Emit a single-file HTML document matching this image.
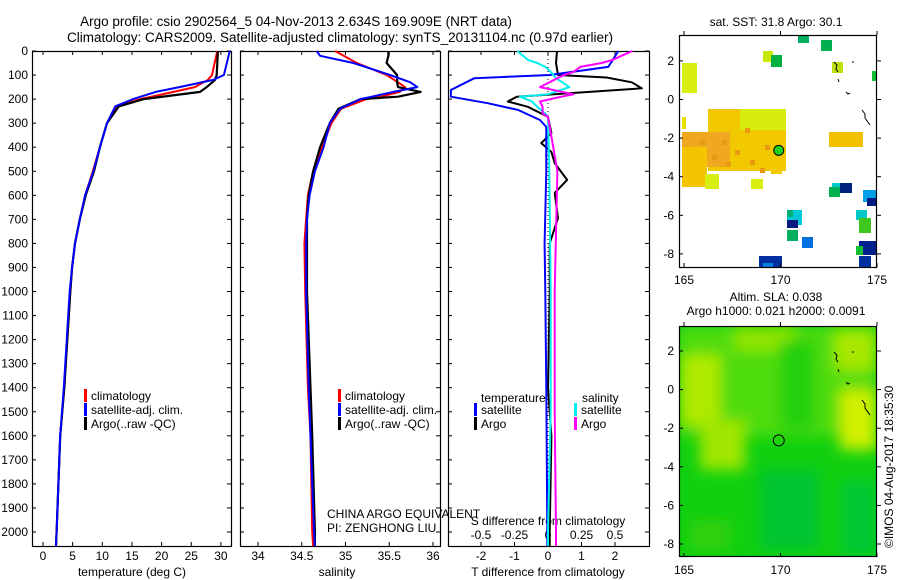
<!DOCTYPE html>
<html><head><meta charset="utf-8"><style>
html,body{margin:0;padding:0;background:#fff;}
svg{display:block;font-family:"Liberation Sans",sans-serif;}
text{fill:#000;}
</style></head><body>
<svg id="fig" width="900" height="580" viewBox="0 0 900 580" xmlns="http://www.w3.org/2000/svg">
<text x="296" y="26" font-size="13.5" text-anchor="middle">Argo profile: csio 2902564_5 04-Nov-2013 2.634S 169.909E (NRT data)</text>
<text x="340" y="42" font-size="13.5" text-anchor="middle">Climatology: CARS2009. Satellite-adjusted climatology: synTS_20131104.nc (0.97d earlier)</text>
<text x="776" y="26" font-size="12" text-anchor="middle">sat. SST: 31.8 Argo: 30.1</text>
<text x="776" y="301" font-size="12" text-anchor="middle">Altim. SLA: 0.038</text>
<text x="776" y="315" font-size="12" text-anchor="middle">Argo h1000: 0.021 h2000: 0.0091</text>
<text transform="translate(893,548) rotate(-90)" font-size="12">©IMOS 04-Aug-2017 18:35:30</text>
<g id="g"></g>
</svg>
<script>
// ---- data ----
const tempDepth = [0,100,120,150,170,200,230,300,400,500,600,700,800,900,1000,1400,1600,2000,2058];
const tempArgo  = [29.5,29.3,29.0,27.6,26.5,17.0,12.8,10.8,9.6,8.6,7.2,6.2,5.4,4.9,4.6,3.6,2.9,2.3,2.2];
const tempClim  = [29.4,28.5,27.8,25.6,22.0,16.4,12.5,10.8,9.6,8.4,7.1,6.2,5.4,4.9,4.6,3.6,2.9,2.3,2.2];
const tempSat   = [31.5,30.5,28.7,23.0,19.0,15.2,12.2,10.8,9.6,8.5,7.1,6.2,5.4,4.9,4.5,3.5,2.9,2.3,2.2];
const salDepth = [0,20,50,100,130,150,170,190,200,240,300,400,500,600,700,800,1000,1400,1600,2000,2058];
const salArgo  = [35.49,35.49,35.47,35.59,35.59,35.6,35.86,35.6,35.17,34.92,34.82,34.71,34.63,34.58,34.56,34.56,34.56,34.6,34.62,34.65,34.65];
const salClim  = [34.88,34.98,35.13,35.47,35.6,35.68,35.62,35.4,35.24,34.95,34.84,34.73,34.63,34.57,34.55,34.53,34.54,34.57,34.6,34.62,34.63];
const salSat   = [34.67,34.71,35.09,35.51,35.74,35.82,35.55,35.3,35.17,34.94,34.82,34.75,34.65,34.59,34.56,34.55,34.55,34.58,34.6,34.64,34.65];
const dTDepth  = [0,50,100,110,130,155,190,210,232,274,341,383,420,466,536,590,695,800,1000,1400,1600,2000,2058];
const dTArgo   = [0.27,0.24,0.3,1.75,2.5,2.8,-0.93,-1.2,-0.6,0.0,0.1,-0.2,0.1,0.2,0.57,0.2,0.3,0.05,0.05,0.0,0.1,0.05,0.05];
const dTSatD   = [0,66,100,113,162,190,217,245,287,316,500,800,1000,1400,2000,2058];
const dTSat    = [2.1,1.8,0.05,-2.2,-2.9,-2.9,-1.8,-0.9,-0.24,-0.05,-0.05,-0.1,-0.08,-0.05,-0.02,-0.02];
const dSDepth  = [0,37,50,66,87,100,113,150,180,190,210,232,260,274,500,1000,1500,2000,2058];
const dSSat    = [-0.23,-0.15,-0.08,-0.02,0.02,0.04,0.06,0.16,0.0,-0.21,-0.12,-0.08,-0.02,0.0,0.01,0.02,0.02,0.0,0.0];
const dSArgo   = [0.63,0.48,0.40,0.24,0.19,0.12,0.07,-0.06,0.19,0.1,-0.06,-0.04,-0.04,0.0,0.07,0.05,0.05,0.06,0.06];
const depthTicks = [0,100,200,300,400,500,600,700,800,900,1000,1100,1200,1300,1400,1500,1600,1700,1800,1900,2000];
const tempTicks = [0,5,10,15,20,25,30];
const salTicks = [34,34.5,35,35.5,36];
const dTTicks = [-2,-1,0,1,2];
const dSTicks = [-0.5,-0.25,0,0.25,0.5];
const latTicks = [2,0,-2,-4,-6,-8];
const lonTicks = [165,170,175];
const argoLon = 169.909, argoLat = -2.634;

// ---- helpers ----
const NS="http://www.w3.org/2000/svg";
const G=document.getElementById('g');
function mk(tag,attrs,parent){const e=document.createElementNS(NS,tag);for(const k in attrs)e.setAttribute(k,attrs[k]);(parent||G).appendChild(e);return e;}
const TOP=51, BOT=546;
const yD = d => TOP + d*0.2405;
const xT = t => 43 + t*5.93;
const xS = s => 258 + (s-34)*87.5;
const xDT = t => 548 + t*33.5;
const xDS = s => 548 + s*134;

function panel(x0,x1,name){
  const r=mk('rect',{x:x0+0.5,y:TOP+0.5,width:x1-x0,height:BOT-TOP,fill:'none',stroke:'#000','stroke-width':1.2});
  
  
  depthTicks.forEach(d=>{
    mk('line',{x1:x0,x2:x0+4,y1:yD(d),y2:yD(d),stroke:'#000'});
    mk('line',{x1:x1-4,x2:x1,y1:yD(d),y2:yD(d),stroke:'#000'});
  });
}
function line(xs,ds,fx,color,w,name){
  const pts=xs.map((v,i)=>fx(v).toFixed(1)+','+yD(ds[i]).toFixed(1)).join(' ');
  const p=mk('polyline',{points:pts,fill:'none',stroke:color,'stroke-width':w,'stroke-linejoin':'round'});
  
  
}
function txt(x,y,s,size,anchor,name){
  const t=mk('text',{x:x,y:y,'font-size':size,'text-anchor':anchor||'start'});
  t.textContent=s;
  
  
  return t;
}

// panels
panel(32,231,'temperature-panel');
panel(240,440,'salinity-panel');
panel(448,649,'difference-panel');
depthTicks.forEach(d=>txt(28,yD(d)+4,String(d),12,'end','depth-tick-label'));
tempTicks.forEach(t=>{mk('line',{x1:xT(t),x2:xT(t),y1:BOT,y2:BOT-4,stroke:'#000'});mk('line',{x1:xT(t),x2:xT(t),y1:TOP,y2:TOP+4,stroke:'#000'});txt(xT(t),560,String(t),12,'middle','temperature-tick-label');});
salTicks.forEach(t=>{mk('line',{x1:xS(t),x2:xS(t),y1:BOT,y2:BOT-4,stroke:'#000'});mk('line',{x1:xS(t),x2:xS(t),y1:TOP,y2:TOP+4,stroke:'#000'});txt(xS(t),560,String(t),12,'middle','salinity-tick-label');});
dTTicks.forEach(t=>{mk('line',{x1:xDT(t),x2:xDT(t),y1:BOT,y2:BOT-4,stroke:'#000'});mk('line',{x1:xDT(t),x2:xDT(t),y1:TOP,y2:TOP+4,stroke:'#000'});txt(xDT(t),560,String(t),12,'middle','t-diff-tick-label');});
dSTicks.forEach(t=>txt(xDS(t),539,String(t),12,'middle','s-diff-tick-label'));
txt(132,576,'temperature (deg C)',12,'middle','temperature-axis-title');
txt(337,576,'salinity',12,'middle','salinity-axis-title');
txt(548,576,'T difference from climatology',12,'middle','t-diff-axis-title');
txt(548,525,'S difference from climatology',12,'middle','s-diff-axis-title');
// zero dotted line
mk('line',{x1:548,x2:548,y1:TOP,y2:BOT,stroke:'#000','stroke-dasharray':'1,3'});

// series
line(tempClim,tempDepth,xT,'#ff0000',2,'temp-climatology-line');
line(tempArgo,tempDepth,xT,'#000000',2.2,'temp-argo-line');
line(tempSat,tempDepth,xT,'#0000ff',2,'temp-satellite-line');
line(salClim,salDepth,xS,'#ff0000',2,'sal-climatology-line');
line(salArgo,salDepth,xS,'#000000',2.2,'sal-argo-line');
line(salSat,salDepth,xS,'#0000ff',2,'sal-satellite-line');
line(dTArgo,dTDepth,xDT,'#000000',2,'tdiff-argo-line');
line(dTSat,dTSatD,xDT,'#0000ff',2,'tdiff-satellite-line');
line(dSSat,dSDepth,xDS,'#00eeee',2,'sdiff-satellite-line');
line(dSArgo,dSDepth,xDS,'#ff00ff',2,'sdiff-argo-line');

// legends
function leg(x,y,c,s,name){mk('rect',{x:x,y:y-9,width:3,height:13,fill:c});txt(x+7,y+2,s,12,'start',name);}
leg(84,398,'#ff0000','climatology','legend-temp-climatology');
leg(84,412,'#0000ff','satellite-adj. clim.','legend-temp-satellite');
leg(84,426,'#000000','Argo(..raw -QC)','legend-temp-argo');
leg(338,398,'#ff0000','climatology','legend-sal-climatology');
leg(338,412,'#0000ff','satellite-adj. clim.','legend-sal-satellite');
leg(338,426,'#000000','Argo(..raw -QC)','legend-sal-argo');
txt(481,402,'temperature',12,'start','legend-temperature-heading');
txt(582,402,'salinity',12,'start','legend-salinity-heading');
leg(474,412,'#0000ff','satellite','legend-tdiff-satellite');
leg(474,426,'#000000','Argo','legend-tdiff-argo');
leg(574,412,'#00eeee','satellite','legend-sdiff-satellite');
leg(574,426,'#ff00ff','Argo','legend-sdiff-argo');
txt(327,518,'CHINA ARGO EQUIVALENT',12,'start','data-centre-label');
txt(327,532,'PI: ZENGHONG LIU',12,'start','pi-label');

// ---- maps ----
const mx = lon => 684 + (lon-165)*19.3;
function mapFrame(top,bot,lat0,name,clipId){
  const my = lat => lat0 - lat*19.3;
  const cp=mk('clipPath',{id:clipId});mk('rect',{x:679,y:top,width:198,height:bot-top},cp);
  return my;
}
// SST map
const myA = lat => 99.5 - lat*19.3;
mapFrame(35,267,99.5,'sst','clipA');
const gA=mk('g',{'clip-path':'url(#clipA)'});


const patches=[
[708,109,78,62,'#f2c800'],[740,109,46,21,'#d8ec10'],[682,132,48,35,'#f0a820'],[682,147,25,40,'#f5c400'],
[682,63,15,30,'#d8ee10'],[682,117,4,12,'#e8e000'],[771,163,11,11,'#f2c800'],[751,179,12,10,'#d8ee10'],[705,174,14,15,'#d8ee10'],
[829,132,34,15,'#f2c000'],[798,35,11,8,'#00b060'],[821,40,11,11,'#00b050'],[763,51,10,11,'#c8e800'],[771,55,11,12,'#00b040'],
[832,62,11,11,'#c0e010'],[872,71,5,10,'#10c030'],[832,183,8,6,'#00c8c8'],[840,183,12,10,'#002080'],[829,187,11,10,'#00b050'],
[863,190,14,12,'#00a0e8'],[867,198,10,8,'#001a80'],[787,210,15,15,'#00c8d8'],[787,210,6,7,'#00b070'],[787,220,11,8,'#001a80'],[787,230,11,11,'#00b060'],
[802,237,11,11,'#0070e0'],[856,210,11,10,'#00c8c8'],[859,218,12,15,'#40c820'],[859,241,18,14,'#002090'],[856,246,7,9,'#10c030'],
[859,256,12,11,'#0030a0'],[759,256,23,11,'#0030a0'],[763,263,10,4,'#0080e0']];
patches.forEach(p=>{const r=mk('rect',{x:p[0],y:p[1],width:p[2],height:p[3],fill:p[4]},gA);});
// texture dots inside blob
[[722,140],[735,150],[750,160],[712,155],[765,145],[745,128],[726,162],[760,168],[700,140]].forEach(q=>mk('rect',{x:q[0],y:q[1],width:5,height:5,fill:'#e89a10'},gA));
mk('rect',{x:679.5,y:35.5,width:197,height:232,fill:'none',stroke:'#000','stroke-width':1.2});
const dotA=mk('circle',{cx:mx(argoLon),cy:myA(argoLat),r:5,fill:'#20d020',stroke:'#000','stroke-width':1});


// SLA map
const myB = lat => 389.6 - lat*19.3;
mapFrame(326,557,389.6,'sla','clipB');
const defs=mk('defs',{});const f=mk('filter',{id:'bl',x:'-20%',y:'-20%',width:'140%',height:'140%'},defs);mk('feGaussianBlur',{stdDeviation:7},f);
const gB=mk('g',{'clip-path':'url(#clipB)'});


mk('rect',{x:679,y:326,width:198,height:231,fill:'#10d010'},gB);
const gBB=mk('g',{filter:'url(#bl)'},gB);
[[679,326,198,110,'#50dc08'],[680,355,40,70,'#b0ea00'],[700,420,45,50,'#a0e600'],[735,326,60,25,'#90e400'],[835,330,42,40,'#a8e800'],
[840,390,37,60,'#d0f000'],[780,340,35,90,'#20d010'],[760,470,60,80,'#00c530'],[840,480,37,77,'#00c830'],[690,520,40,30,'#30d010']]
.forEach(e=>mk('rect',{x:e[0],y:e[1],width:e[2],height:e[3],fill:e[4]},gBB));
mk('rect',{x:679.5,y:326.5,width:197,height:230,fill:'none',stroke:'#000','stroke-width':1.2});
const dotB=mk('circle',{cx:mx(argoLon),cy:myB(argoLat),r:5.5,fill:'none',stroke:'#000','stroke-width':1});


// coastlines
[[0,0],[1,1]].forEach((_,k)=>{
  const off=k?290.1:0;
  mk('path',{d:`M834 ${62+off} l3 3 l-1 4 l2 3 M838 ${79+off} l1 3 M846 ${92+off} l2 2 l2 -1 M862 ${110+off} l3 4 l0 4 l5 7 M853 ${61+off} l0 2`,fill:'none',stroke:'#000','stroke-width':1});
});
// map ticks & labels
[[35,267,myA,'sst'],[326,557,myB,'sla']].forEach(m=>{
  const [t,b,my,nm]=m;
  latTicks.forEach(l=>{const y=my(l);mk('line',{x1:679,x2:683,y1:y,y2:y,stroke:'#000'});mk('line',{x1:877,x2:881,y1:y,y2:y,stroke:'#000'});txt(674,y+4,String(l),12,'end',nm+'-lat-label');});
  lonTicks.forEach(l=>{const x=mx(l);mk('line',{x1:x,x2:x,y1:t-4,y2:t,stroke:'#000'});mk('line',{x1:x,x2:x,y1:b,y2:b-4,stroke:'#000'});txt(x,b+17,String(l),12,'middle',nm+'-lon-label');});
});
</script>
</body></html>
